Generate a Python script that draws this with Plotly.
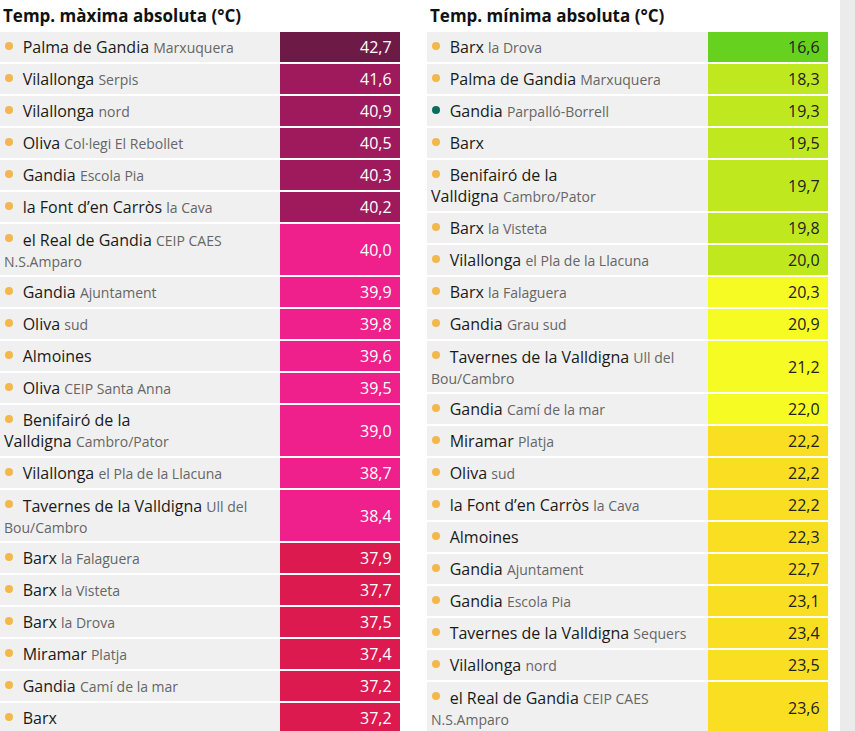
import plotly.graph_objects as go

# left table: maximum temperature
max_names = ["Palma de Gandia", "Vilallonga", "Vilallonga", "Oliva", "Gandia", "la Font d’en Carròs",
             "el Real de Gandia", "Gandia", "Oliva", "Almoines", "Oliva", "Benifairó de la<br>Valldigna",
             "Vilallonga", "Tavernes de la Valldigna", "Barx", "Barx", "Barx", "Miramar", "Gandia", "Barx"]
max_subs = ["Marxuquera", "Serpis", "nord", "Col·legi El Rebollet", "Escola Pia", "la Cava",
            "CEIP CAES<br>N.S.Amparo", "Ajuntament", "sud", "", "CEIP Santa Anna", "Cambro/Pator",
            "el Pla de la Llacuna", "Ull del<br>Bou/Cambro", "la Falaguera", "la Visteta", "la Drova",
            "Platja", "Camí de la mar", ""]
max_values = [42.7, 41.6, 40.9, 40.5, 40.3, 40.2, 40.0, 39.9, 39.8, 39.6, 39.5, 39.0,
              38.7, 38.4, 37.9, 37.7, 37.5, 37.4, 37.2, 37.2]
max_double = [False] * 6 + [True] + [False] * 4 + [True, False, True] + [False] * 6

# right table: minimum temperature
min_names = ["Barx", "Palma de Gandia", "Gandia", "Barx", "Benifairó de la<br>Valldigna", "Barx",
             "Vilallonga", "Barx", "Gandia", "Tavernes de la Valldigna", "Gandia", "Miramar", "Oliva",
             "la Font d’en Carròs", "Almoines", "Gandia", "Gandia", "Tavernes de la Valldigna",
             "Vilallonga", "el Real de Gandia"]
min_subs = ["la Drova", "Marxuquera", "Parpalló-Borrell", "", "Cambro/Pator", "la Visteta",
            "el Pla de la Llacuna", "la Falaguera", "Grau sud", "Ull del<br>Bou/Cambro", "Camí de la mar",
            "Platja", "sud", "la Cava", "", "Ajuntament", "Escola Pia", "Sequers", "nord",
            "CEIP CAES<br>N.S.Amparo"]
min_values = [16.6, 18.3, 19.3, 19.5, 19.7, 19.8, 20.0, 20.3, 20.9, 21.2, 22.0, 22.2, 22.2,
              22.2, 22.3, 22.7, 23.1, 23.4, 23.5, 23.6]
min_double = [False] * 4 + [True] + [False] * 4 + [True] + [False] * 9 + [True]
min_dot_teal = [False, False, True] + [False] * 17


def max_color(v):
    if v >= 42:
        return "#6e1a46"
    if v > 40.1:
        return "#9e1a5c"
    if v >= 38:
        return "#ef208b"
    return "#dc1a50"


def min_color(v):
    if v < 17:
        return "#66d11e"
    if v <= 20.0:
        return "#bfe91e"
    if v <= 22.0:
        return "#f6fb23"
    return "#fade21"


fig = go.Figure()
shapes, notes = [], []

# scrollbar strip on the right
shapes.append(dict(type="rect", x0=840, x1=855, y0=0, y1=731, fillcolor="#ebebeb", line_width=0, layer="below"))


def add_table(x0, xv, x1, title, names, subs, values, double, colfn, txtcolor, teal=None):
    notes.append(dict(x=x0 + 1, y=15, text="<b>" + title + "</b>", showarrow=False, xanchor="left",
                      yanchor="middle", font=dict(size=17, color="#111")))
    top = 32
    for i, v in enumerate(values):
        h = 53 if double[i] else 32
        shapes.append(dict(type="rect", x0=x0, x1=xv, y0=top, y1=top + h - 2, fillcolor="#f0f0f0",
                           line_width=0, layer="below"))
        shapes.append(dict(type="rect", x0=xv, x1=x1, y0=top, y1=top + h - 2, fillcolor=colfn(v),
                           line_width=0, layer="below"))
        dot_y = top + 14
        shapes.append(dict(type="circle", x0=x0 + 5, x1=x0 + 13, y0=dot_y - 4, y1=dot_y + 4,
                           fillcolor="#0d6b5c" if teal and teal[i] else "#f2b84b", line_width=0))
        label = "\u2003\u2009" + names[i]
        if subs[i]:
            label += " <span style='font-size:14px;color:#666'>" + subs[i] + "</span>"
        notes.append(dict(x=x0 + 2, y=top + (h - 2) / 2, text=label, showarrow=False, xanchor="left",
                          yanchor="middle", align="left", font=dict(size=16, color="#1a1a1a")))
        notes.append(dict(x=x1 - 6, y=top + (h - 2) / 2, text=f"{v:.1f}".replace(".", ","),
                          showarrow=False, xanchor="right", yanchor="middle",
                          font=dict(size=16, color=txtcolor)))
        top += h


add_table(0, 280, 400, "Temp. màxima absoluta (°C)", max_names, max_subs, max_values, max_double,
          max_color, "white")
add_table(427, 708, 828, "Temp. mínima absoluta (°C)", min_names, min_subs, min_values, min_double,
          min_color, "#222", teal=min_dot_teal)

fig.update_layout(
    width=855, height=731, margin=dict(l=0, r=0, t=0, b=0),
    paper_bgcolor="white", plot_bgcolor="white",
    font=dict(family="Open Sans"),
    xaxis=dict(range=[0, 855], visible=False, fixedrange=True),
    yaxis=dict(range=[731, 0], visible=False, fixedrange=True),
    shapes=shapes, annotations=notes, showlegend=False,
)
fig.write_html("out.html", config={"displayModeBar": False},
               post_script="document.body.style.margin='0';document.body.style.overflow='hidden';")
